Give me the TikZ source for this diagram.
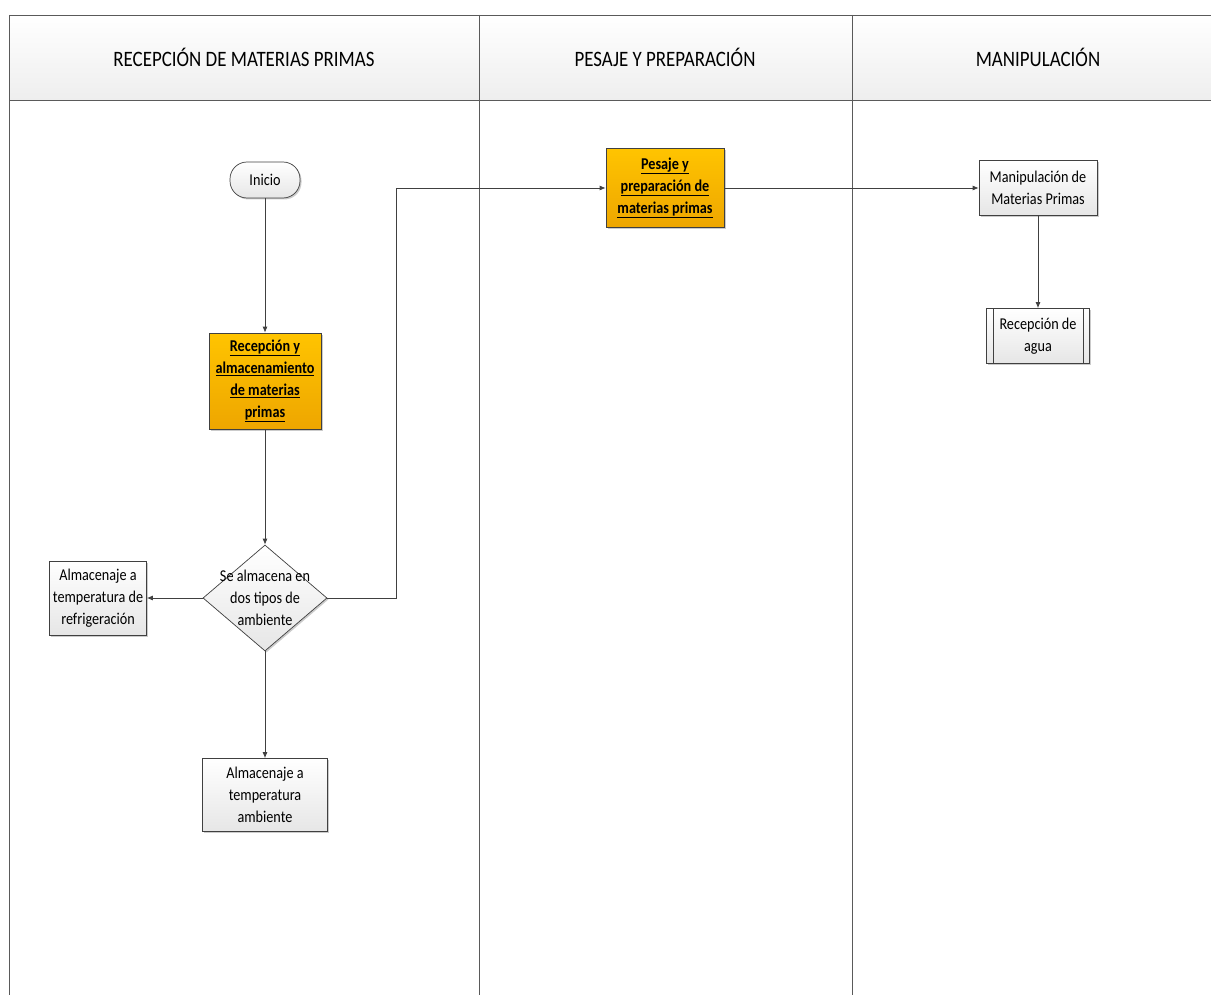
\documentclass[tikz,border=0pt]{standalone}
\usepackage{fontspec}
\setmainfont{Carlito}[FakeStretch=0.86]
\usepackage{tikz}
\usetikzlibrary{arrows.meta,shapes.geometric,shadows}

\definecolor{lineGrey}{HTML}{404040}
\definecolor{laneGrey}{HTML}{5A5A5A}
\definecolor{boxGrey}{HTML}{E6E6E6}
\definecolor{headGrey}{HTML}{EEEEEE}
\definecolor{goldTop}{HTML}{FFC400}
\definecolor{goldBot}{HTML}{EEA600}

\tikzset{
	lane/.style={draw=laneGrey, line width=0.9pt},
	lanehead/.style={font=\fontsize{22}{24}\selectfont},
	shade/.style={drop shadow={shadow xshift=1.5pt, shadow yshift=-1.5pt, fill=black!45, opacity=0.45}},
	plainbox/.style={draw=lineGrey, line width=0.7pt, top color=white, bottom color=boxGrey,
		align=center, inner sep=2pt, font=\fontsize{16.5}{22}\selectfont, shade},
	goldbox/.style={draw=lineGrey, line width=0.7pt, top color=goldTop, bottom color=goldBot,
		align=center, inner sep=2pt, font=\bfseries\fontsize{16.5}{22}\selectfont, shade},
	flow/.style={draw=lineGrey, line width=0.8pt, -{Latex[length=6pt,width=5pt]}},
}

\begin{document}
\begin{tikzpicture}[x=1pt, y=-1pt]
	\useasboundingbox (0,0) rectangle (1211,995);
	% lanes
	\fill[top color=white, bottom color=headGrey] (9,15) rectangle (1211,100);
	\draw[lane] (9,15) -- (1211,15);
	\draw[lane] (9,100) -- (1211,100);
	\draw[lane] (9,15) -- (9,995);
	\draw[lane] (479,15) -- (479,995);
	\draw[lane] (852,15) -- (852,995);

	\path (244,57) coordinate (head1);
	\path (665,57) coordinate (head2);
	\path (1038,57) coordinate (head3);
	\node[lanehead] (recepcionhead) at (head1) {RECEPCIÓN DE MATERIAS PRIMAS};
	\node[lanehead] (pesajehead) at (head2) {PESAJE Y PREPARACIÓN};
	\node[lanehead] (manipulacionhead) at (head3) {MANIPULACIÓN};

	% nodes
	\node[plainbox, rounded corners=17pt, minimum width=70pt, minimum height=36pt] (inicio) at (265,180) {Inicio};
	\node[goldbox, minimum width=112pt, minimum height=96pt] (recepcion) at (265,381)
		{\underline{Recepción y}\\\underline{almacenamiento}\\\underline{de materias}\\\underline{primas}};
	\node[draw=lineGrey, line width=0.7pt, diamond, top color=white, bottom color=boxGrey, inner sep=0pt,
		minimum width=124pt, minimum height=106pt, shade,
		label={[align=center, font=\fontsize{16.5}{22}\selectfont]center:Se almacena en\\dos tipos de\\ambiente}] (almacena) at (265,598) {};
	\node[plainbox, minimum width=97pt, minimum height=74pt] (refrigeracion) at (98,598)
		{Almacenaje a\\temperatura de\\refrigeración};
	\node[plainbox, minimum width=125pt, minimum height=73pt] (ambiente) at (265,795)
		{Almacenaje a\\temperatura\\ambiente};
	\node[goldbox, minimum width=118pt, minimum height=79pt] (pesaje) at (665,188)
		{\underline{Pesaje y}\\\underline{preparación de}\\\underline{materias primas}};
	\node[plainbox, minimum width=118pt, minimum height=55pt] (manipulacion) at (1038,188)
		{Manipulación de\\Materias Primas};
	\node[plainbox, minimum width=103pt, minimum height=55pt] (agua) at (1038,336)
		{Recepción de\\agua};
	\draw[draw=lineGrey, line width=0.7pt] ([xshift=7pt]agua.north west) -- ([xshift=7pt]agua.south west);
	\draw[draw=lineGrey, line width=0.7pt] ([xshift=-7pt]agua.north east) -- ([xshift=-7pt]agua.south east);

	% connectors
	\path (396,598) coordinate (giro);
	\draw[flow] (inicio) -- (recepcion);
	\draw[flow] (recepcion) -- (almacena.north);
	\draw[flow] (almacena.west) -- (refrigeracion);
	\draw[flow] (almacena.south) -- (ambiente);
	\draw[flow] (almacena.east) -- (giro) |- (pesaje.west);
	\draw[flow] (pesaje) -- (manipulacion);
	\draw[flow] (manipulacion) -- (agua);
\end{tikzpicture}
\end{document}
